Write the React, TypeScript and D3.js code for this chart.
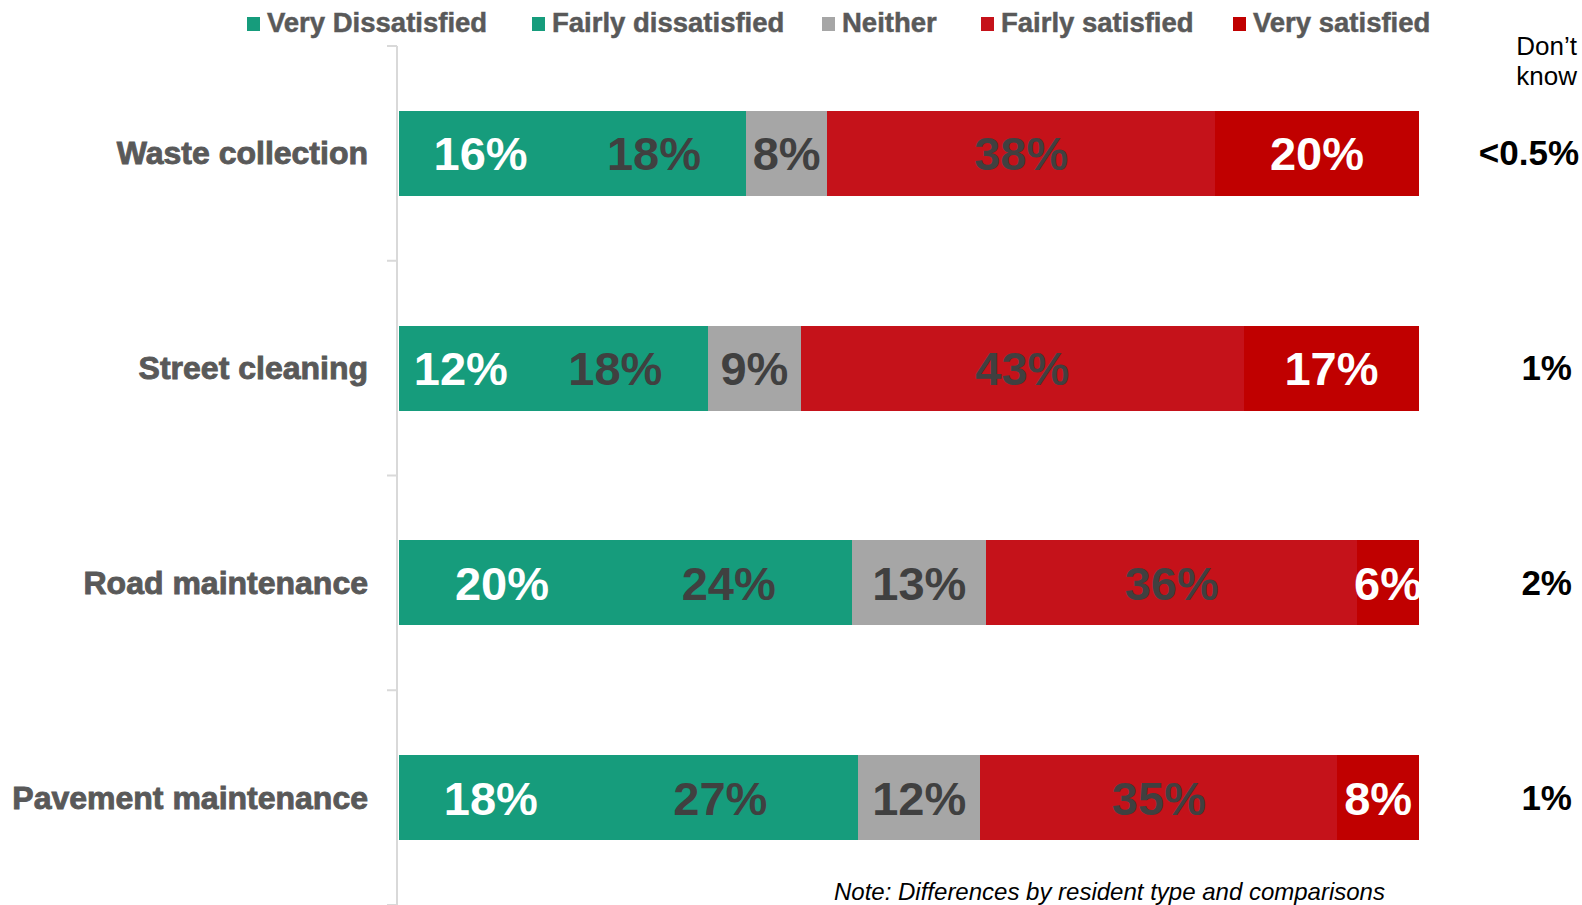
import React from "react";
import * as d3 from "d3";

const categories = ["Waste collection", "Street cleaning", "Road maintenance", "Pavement maintenance"];
const seriesKeys = ["Very Dissatisfied", "Fairly dissatisfied", "Neither", "Fairly satisfied", "Very satisfied"];
const veryDissatisfied = [16, 12, 20, 18];
const fairlyDissatisfied = [18, 18, 24, 27];
const neither = [8, 9, 13, 12];
const fairlySatisfied = [38, 43, 36, 35];
const verySatisfied = [20, 17, 6, 8];
const dontKnow = ["<0.5%", "1%", "2%", "1%"];

const seriesColors = ["#169C7C", "#169C7C", "#A6A6A6", "#C5121A", "#C00000"];
const labelColors = ["#FFFFFF", "#404040", "#404040", "#404040", "#FFFFFF"];
const legendX = [247, 532, 822, 981, 1233];

const W = 1582;
const H = 905;
const FONT = "'Liberation Sans', Arial, sans-serif";

export default function App() {
  const rows = categories.map((c, i) => ({
    category: c,
    "Very Dissatisfied": veryDissatisfied[i],
    "Fairly dissatisfied": fairlyDissatisfied[i],
    Neither: neither[i],
    "Fairly satisfied": fairlySatisfied[i],
    "Very satisfied": verySatisfied[i],
  }));
  const stack = d3.stack<any>().keys(seriesKeys).offset(d3.stackOffsetExpand);
  const layers = stack(rows);

  const y = d3.scaleBand<string>().domain(categories).range([46, 905]).paddingInner(0.604).paddingOuter(0.302);
  const step = y.step();
  const x = d3.scaleLinear().domain([0, 1]).range([399, 1419]);
  const bandStarts = categories.map((_, i) => 46 + i * step);
  bandStarts.push(46 + categories.length * step);

  return (
    <svg width={W} height={H} style={{ position: "absolute", left: 0, top: 0 }} fontFamily={FONT}>
      <rect x={0} y={0} width={W} height={H} fill="#FFFFFF" />
      {/* axis */}
      <line x1={397} x2={397} y1={46} y2={H} stroke="#D9D9D9" strokeWidth={2} />
      {bandStarts.map((t, i) => (
        <line key={i} x1={387} x2={397} y1={t} y2={t} stroke="#D9D9D9" strokeWidth={2} />
      ))}
      {/* bars */}
      {layers.map((layer, li) => (
        <g key={layer.key}>
          {layer.map((d, i) => {
            const x0 = x(d[0]);
            const x1 = x(d[1]);
            const yy = y(categories[i]) as number;
            return (
              <rect
                key={i}
                x={x0}
                y={yy}
                width={x1 - x0 + (li < seriesKeys.length - 1 ? 0.8 : 0)}
                height={y.bandwidth()}
                fill={seriesColors[li]}
                shapeRendering="crispEdges"
              />
            );
          })}
        </g>
      ))}
      {/* labels */}
      {layers.map((layer, li) => (
        <g key={"l" + layer.key}>
          {layer.map((d, i) => {
            const x0 = x(d[0]);
            const x1 = x(d[1]);
            const yy = (y(categories[i]) as number) + y.bandwidth() / 2;
            const v = (d.data as any)[layer.key];
            return (
              <text
                key={i}
                x={(x0 + x1) / 2}
                y={yy + 17}
                textAnchor="middle"
                fontSize={47}
                fontWeight="bold"
                fill={labelColors[li]}
              >
                {v + "%"}
              </text>
            );
          })}
        </g>
      ))}
      {/* category labels */}
      {categories.map((c) => (
        <text
          key={c}
          x={368}
          y={(y(c) as number) + y.bandwidth() / 2 + 11}
          textAnchor="end"
          fontSize={32}
          fontWeight="bold"
          fill="#595959"
          stroke="#595959"
          strokeWidth={0.9}
        >
          {c}
        </text>
      ))}
      {/* legend */}
      {seriesKeys.map((k, i) => (
        <g key={k}>
          <rect x={legendX[i]} y={17} width={13} height={14} fill={seriesColors[i]} />
          <text
            x={legendX[i] + 20}
            y={31.5}
            fontSize={27.5}
            fontWeight="bold"
            fill="#595959"
            stroke="#595959"
            strokeWidth={0.5}
          >
            {k}
          </text>
        </g>
      ))}
      {/* don't know column */}
      <text x={1577} y={55} textAnchor="end" fontSize={26} fill="#000000">Don’t</text>
      <text x={1577} y={85} textAnchor="end" fontSize={26} fill="#000000">know</text>
      {categories.map((c, i) => (
        <text
          key={"dk" + c}
          x={i === 0 ? 1579 : 1572}
          y={(y(c) as number) + y.bandwidth() / 2 + 12}
          textAnchor="end"
          fontSize={35}
          fontWeight="bold"
          fill="#000000"
        >
          {dontKnow[i]}
        </text>
      ))}
      {/* note */}
      <text x={834} y={900} fontSize={24} fontStyle="italic" fill="#000000">
        Note: Differences by resident type and comparisons
      </text>
    </svg>
  );
}
